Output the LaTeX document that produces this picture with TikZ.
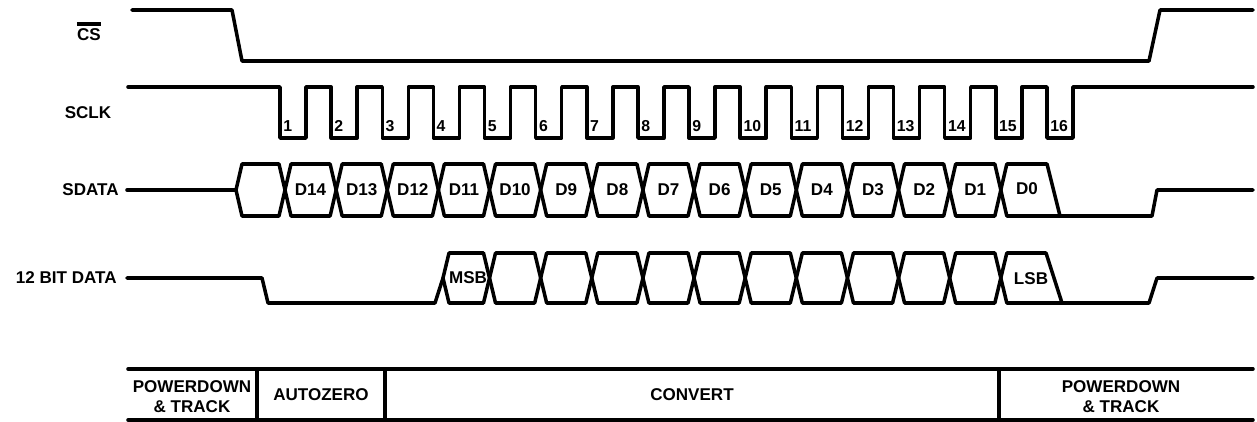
\documentclass[tikz,border=0pt]{standalone}
\usepackage{fontspec}
\setmainfont{Liberation Sans}

\begin{document}
\begin{tikzpicture}[
    x=0.02cm, y=-0.02cm,
    wave/.style={draw, line width=2pt, line join=round, line cap=round},
    sig/.style={font=\bfseries\fontsize{9.7}{11}\selectfont, inner sep=0pt},
    bit/.style={font=\bfseries\fontsize{9}{10}\selectfont, inner sep=0pt},
    phase/.style={font=\bfseries\fontsize{9.7}{11.3}\selectfont, align=center, inner sep=0pt}
]
\useasboundingbox (0,0) rectangle (1257,422);

% signal names
\node[sig] (cs) at (89,35) {CS};
\draw[line width=2pt] ([yshift=2.6pt]cs.north west) -- ([yshift=2.6pt]cs.north east);
\node[sig] (sclk) at (88,113) {SCLK};
\node[sig, anchor=east] (sdata) at (119,190) {SDATA};
\node[sig, anchor=east] (bitdata) at (117,278) {12 BIT DATA};

% chip select
\draw[wave] (132,10) -- (232,10) -- (242,61) -- (1149,61) -- (1160,10) -- (1253,10);

% serial clock
\draw[wave] (128,87)
    \foreach \n in {0,...,15} {
        -- ({280+51.13*\n},87) -- ({280+51.13*\n},138)
        -- ({306+51.13*\n},138) -- ({306+51.13*\n},87)
    } -- (1253,87);
\foreach \n in {1,...,16}
    \node[bit, anchor=west] (n\n) at ({283+51.13*(\n-1)},126) {\n};

% serial data
\draw[wave] (127,190) -- (236,190);
\draw[wave] (236,190) -- (242,164) -- (279,164) -- (285,190) -- (279,216) -- (242,216) -- cycle;
\foreach \k in {0,...,13}
    \draw[wave] ({285+51.13*\k},190) -- ++(6,-26) -- ({330.13+51.13*\k},164)
        -- ({336.13+51.13*\k},190) -- ++(-6,26) -- ({291+51.13*\k},216) -- cycle;
\foreach \k [evaluate=\k as \b using int(14-\k)] in {0,...,13}
    \node[sig] (d\b) at ({310.57+51.13*\k},190) {D\b};
\draw[wave] (1000.8,190) -- (1006.8,164) -- (1047,164) -- (1060,216) -- (1152,216) -- (1157,190) -- (1253,190);
\draw[wave] (1000.8,190) -- (1006.8,216) -- (1060,216);
\node[sig] (d0) at (1027,189) {D0};

% 12 bit data
\draw[wave] (127,278) -- (262,278) -- (268,303) -- (435,303) -- (443,278);
\draw[wave] (443,278) -- (449,253) -- (483.5,253) -- (489.5,278) -- (483.5,303) -- (449,303) -- cycle;
\node[sig] (msb) at (468,278) {MSB};
\foreach \k in {4,...,13}
    \draw[wave] ({285+51.13*\k},278) -- ++(6,-25) -- ({330.13+51.13*\k},253)
        -- ({336.13+51.13*\k},278) -- ++(-6,25) -- ({291+51.13*\k},303) -- cycle;
\draw[wave] (1000.8,278) -- (1006.8,253) -- (1046,253) -- (1062,303) -- (1149,303) -- (1157,278) -- (1253,278);
\draw[wave] (1000.8,278) -- (1006.8,303) -- (1062,303);
\node[sig] (lsb) at (1031,279) {LSB};

% conversion phases
\draw[wave] (128,369) -- (1253,369);
\draw[wave] (128,420) -- (1253,420);
\draw[wave] (257,369) -- (257,420);
\draw[wave] (385,369) -- (385,420);
\draw[wave] (999,369) -- (999,420);
\node[phase] (track1) at (192,397) {POWERDOWN\\\& TRACK};
\node[phase] (autozero) at (321,395) {AUTOZERO};
\node[phase] (convert) at (692,395) {CONVERT};
\node[phase] (track2) at (1121,397) {POWERDOWN\\\& TRACK};

\end{tikzpicture}
\end{document}
